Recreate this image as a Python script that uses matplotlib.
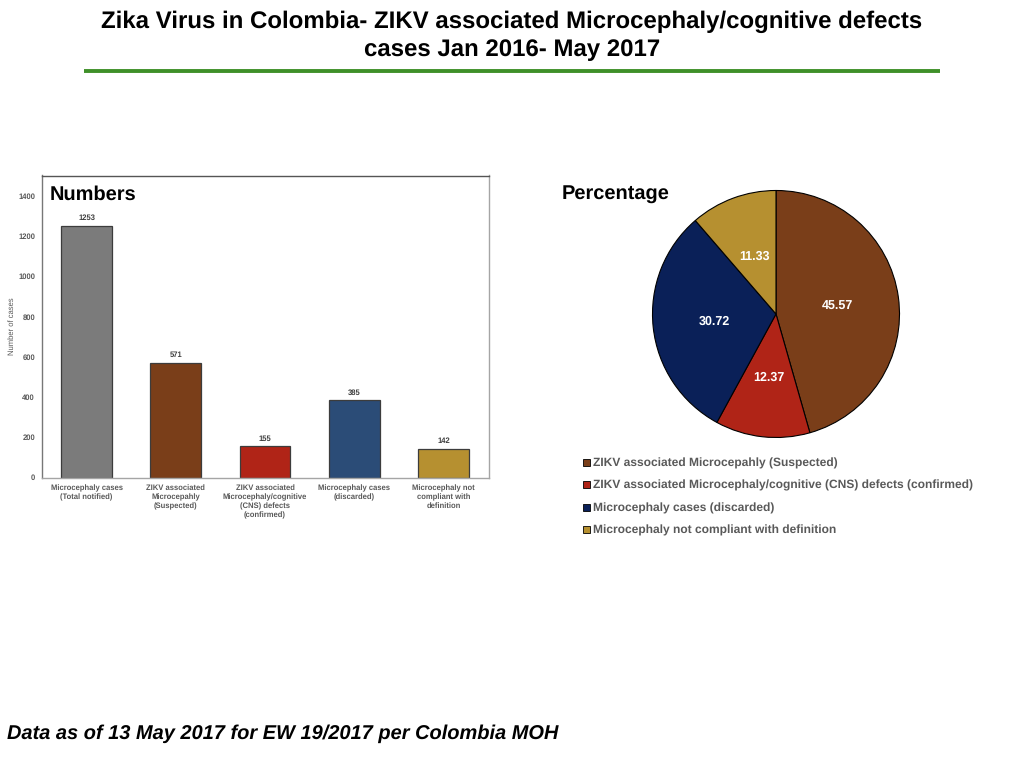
#Zika Colombia microcephaly chart
import matplotlib
matplotlib.use('Agg')
import matplotlib.pyplot as plt
from matplotlib.patches import Rectangle

plt.rcParams['font.family'] = ['Liberation Sans', 'DejaVu Sans']
plt.rcParams['font.weight'] = 'bold'
plt.rcParams['text.hinting'] = 'none'

W = 1024
H = 768

#data
bar_labels = ['Microcephaly cases\n(Total notified)',
              'ZIKV associated\nMicrocepahly\n(Suspected)',
              'ZIKV associated\nMicrocephaly/cognitive\n(CNS) defects\n(confirmed)',
              'Microcephaly cases\n(discarded)',
              'Microcephaly not\ncompliant with\ndefinition']
bar_values = [1253, 571, 155, 385, 142]
bar_text = ['1253', '571', '155', '385', '142']
bar_colors = ['#7b7b7b', '#7a3e19', '#b02417', '#2b4c77', '#b69030']
y_ticks = [0, 200, 400, 600, 800, 1000, 1200, 1400]

pie_values = [45.57, 12.37, 30.72, 11.33]
pie_colors = ['#7a3e19', '#b02417', '#0a2058', '#b69030']
pie_legend = ['ZIKV associated Microcepahly (Suspected)',
              'ZIKV associated Microcephaly/cognitive (CNS) defects (confirmed)',
              'Microcephaly cases (discarded)',
              'Microcephaly not compliant with definition']

grey = '#595959'


def box(left, top, right, bottom):
    return [left / W, 1 - bottom / H, (right - left) / W, (bottom - top) / H]


fig = plt.figure(figsize=(10.24, 7.68), dpi=100)

#header
fig.text(511.5 / W, 1 - 22 / H, 'Zika Virus in Colombia- ZIKV associated Microcephaly/cognitive defects',
         ha='center', va='center', fontsize=17.3, color='black')
fig.text(512 / W, 1 - 50 / H, 'cases Jan 2016- May 2017',
         ha='center', va='center', fontsize=17.3, color='black')
fig.add_artist(plt.Line2D([84 / W, 940 / W], [1 - 70.5 / H, 1 - 70.5 / H], color='#3f9029', lw=2.8,
                          solid_capstyle='butt'))

#bars
ax = fig.add_axes(box(42, 175.5, 489, 477.5))
x = range(len(bar_values))
ax.bar(x, bar_values, width=0.57, color=bar_colors, edgecolor='#3c3c3c', linewidth=0.9)
for i in x:
    ax.text(i, bar_values[i] + 19, bar_text[i], ha='center', va='bottom', fontsize=5.5, color='#404040')
ax.set_xlim(-0.5, 4.51)
ax.set_ylim(0, 1502)
ax.set_yticks(y_ticks)
ax.set_xticks(list(x))
ax.set_xticklabels(bar_labels, fontsize=5.5, color=grey, linespacing=1.26)
ax.tick_params(axis='y', length=0, labelsize=5.5, labelcolor=grey, pad=5)
ax.tick_params(axis='x', length=0, pad=5)
ax.set_ylabel('Number of cases', fontsize=5.5, color=grey)
ax.yaxis.set_label_coords(-0.058, 0.5)
ax.spines['top'].set_color('#555555')
ax.spines['left'].set_color('#777777')
ax.spines['right'].set_color('#a5a5a5')
ax.spines['bottom'].set_color('#a5a5a5')
for s in ax.spines.values():
    s.set_linewidth(1.0)
fig.text(50 / W, 1 - 194.5 / H, 'Numbers', ha='left', va='center', fontsize=14.4, color='black')

#pie
ax2 = fig.add_axes(box(646, 184, 906, 444))
wedges, texts, pct = ax2.pie(pie_values, colors=pie_colors, startangle=90, counterclock=False, radius=1,
                             wedgeprops={'edgecolor': 'black', 'linewidth': 0.8},
                             autopct=lambda p: '%.2f' % p, pctdistance=0.505,
                             textprops={'color': 'white', 'fontsize': 9, 'fontweight': 'bold'})
for t in pct:
    t.set_va('center_baseline')
ax2.set_xlim(-1.0526, 1.0526)
ax2.set_ylim(-1.0526, 1.0526)
ax2.set_aspect('equal')

fig.text(562 / W, 1 - 195 / H, 'Percentage', ha='left', va='center', fontsize=14.4, color='black')

#legend
leg_y = [462.5, 484.5, 507, 529]
for name, c, y in zip(pie_legend, pie_colors, leg_y):
    fig.add_artist(Rectangle((583.3 / W, 1 - (y + 3.5) / H), 7 / W, 7 / H, transform=fig.transFigure,
                             facecolor=c, edgecolor='black', linewidth=0.6))
    fig.text(593 / W, 1 - (y + 1) / H, name, ha='left', va='center', fontsize=8.65, color=grey)

#footer
fig.text(7 / W, 1 - 733.5 / H, 'Data as of 13 May 2017 for EW 19/2017 per Colombia MOH', ha='left', va='center',
         fontsize=14.4, style='italic', color='black')

fig.savefig('out.png', dpi=100)
